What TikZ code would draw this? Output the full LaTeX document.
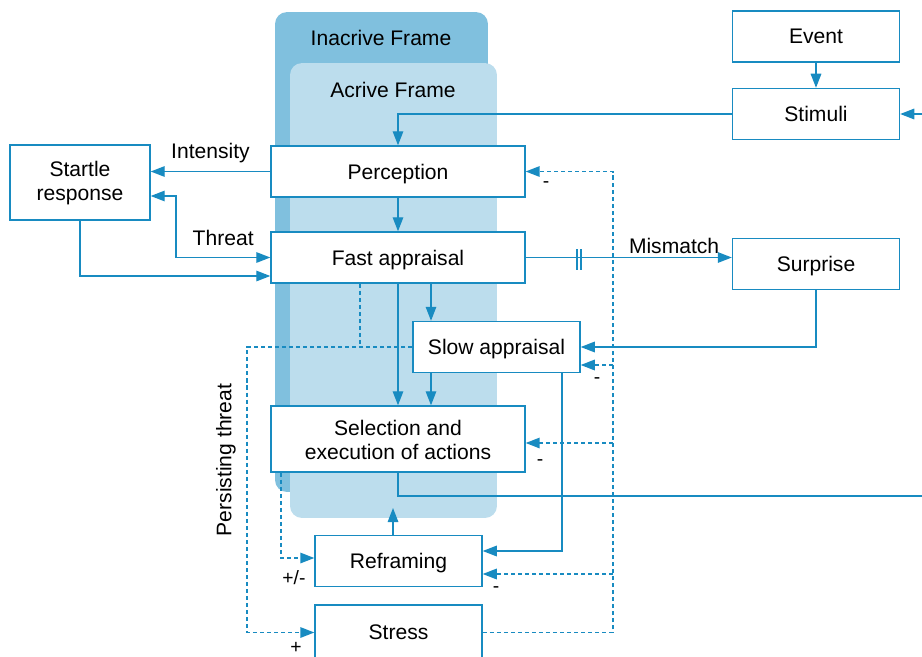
\documentclass[tikz,border=0pt]{standalone}
\usepackage{fontspec}
\setmainfont{Liberation Sans}
\usetikzlibrary{arrows.meta}

\definecolor{lineblue}{RGB}{24,139,193}
\definecolor{darkframe}{RGB}{128,192,222}
\definecolor{lightframe}{RGB}{188,221,237}

\begin{document}
\begin{tikzpicture}[x=0.02cm, y=-0.02cm, >={Triangle[length=8pt, width=6pt]},
    line width=0.8pt, font=\fontsize{12}{13.6}\selectfont,
    box/.style={draw=lineblue, fill=white, minimum width=5.08cm, minimum height=1.02cm, inner sep=0pt, align=center},
    lbox/.style={box, text depth=0pt},
    sbox/.style={lbox, minimum width=3.34cm},
    framebox/.style={rounded corners=0.24cm, inner sep=0pt},
    link/.style={->, draw=lineblue},
    fb/.style={->, draw=lineblue, line width=0.85pt, dash pattern=on 2.3pt off 1.7pt},
    sign/.style={font=\fontsize{11}{13}\selectfont}
  ]
  \useasboundingbox (0,0) rectangle (922,656);

  % Frames
  \node[framebox, fill=darkframe, minimum width=4.26cm, minimum height=9.6cm] (inact) at (381.5,252) {};
  \node[framebox, fill=lightframe, minimum width=4.14cm, minimum height=9.1cm] (act) at (393.5,290.5) {};
  \node (inacttxt) at (381,38) {Inacrive Frame};
  \node (acttxt) at (393,90) {Acrive Frame};

  % Boxes manually positioned
  \node[sbox] (event) at (816,36.5) {Event};
  \node[sbox] (stimuli) at (816,114) {Stimuli};
  \node[lbox] (percep) at (398,171.5) {Perception};
  \node[box, minimum width=2.8cm, minimum height=1.5cm] (startle) at (80,182.5) {\strut Startle\\response};
  \node[lbox] (fast) at (398,257.5) {Fast appraisal};
  \node[sbox] (surprise) at (816,264) {Surprise};
  \node[sbox] (slow) at (496.5,347) {Slow appraisal};
  \node[box, minimum height=1.32cm] (select) at (398,439) {\strut Selection and\\execution of actions};
  \node[sbox] (reframe) at (398.5,561) {Reframing};
  \node[sbox, minimum height=1.1cm] (stress) at (398.5,632.5) {Stress};

  % Helper coordinates
  \coordinate (bus) at (613,0);
  \coordinate (sub) at (431,0);
  \coordinate (thx) at (176,0);
  \coordinate (ptx) at (247,0);
  \coordinate (fdx) at (360,0);
  \coordinate (sdx) at (281,0);
  \coordinate (rfx) at (562,0);
  \coordinate (inr) at (922,114);
  \coordinate (outr) at (922,496);
  \coordinate (rftip) at (393,508);
  \coordinate (slowdn) at ([yshift=-0.36cm]slow.east);
  \coordinate (seldn) at ([yshift=-0.08cm]select.east);
  \coordinate (rfup) at ([yshift=0.2cm]reframe.east);
  \coordinate (rfdn) at ([yshift=-0.26cm]reframe.east);

  % Solid connectors
  \draw[link] (event) -- (stimuli);
  \draw[link] (stimuli.west) -| (percep.north);
  \draw[link] (inr) -- (stimuli.east);
  \draw[link] (percep.west) -- (percep.west -| startle.east) node[midway, above=1pt] {Intensity};
  \draw[link, <->] ([yshift=-0.27cm]startle.east) -| (thx |- fast.west) -- (fast.west) node[midway, above=3pt] {Threat};
  \draw[link] (startle.south) |- ([yshift=-0.37cm]fast.west);
  \draw[link] (percep) -- (fast);
  \draw[link] (fast.east) -- (fast.east -| surprise.west) node[pos=0.72, above=-1.5pt] {Mismatch};
  \draw[draw=lineblue, line width=0.6pt] (577,249) -- (577,270) (581,249) -- (581,270);
  \draw[link] (fast.south) -- (select.north);
  \draw[link] (sub |- fast.south) -- (sub |- slow.north);
  \draw[link] (sub |- slow.south) -- (sub |- select.north);
  \draw[link] (surprise.south) |- (slow.east);
  \draw[link] (rfx |- slow.south) |- (rfup);
  \draw[draw=lineblue] (select.south) |- (outr);
  \draw[link] (reframe.north -| rftip) -- (rftip);

  % Dashed feedback
  \draw[fb] (stress.east) -| (bus |- percep.east) -- (percep.east);
  \draw[fb] (bus |- slowdn) -- (slowdn);
  \draw[fb] (bus |- seldn) -- (seldn);
  \draw[fb] (bus |- rfdn) -- (rfdn);
  \draw[fb] (slow.west) -| (ptx |- stress.west) -- (stress.west);
  \draw[fb, -] (fdx |- fast.south) -- (fdx |- slow.west);
  \draw[fb] (sdx |- select.south) |- ([yshift=0.06cm]reframe.west);

  % Signs
  \node[sign] (s1) at (546,185) {-};
  \node[sign] (s2) at (597,381) {-};
  \node[sign] (s3) at (540,463) {-};
  \node[sign] (s4) at (496,590) {-};
  \node[sign] (s5) at (294,578) {+/-};
  \node[sign] (s6) at (296,648) {+};
  \node[rotate=90] (pt) at (226,460) {Persisting threat};

\end{tikzpicture}
\end{document}
